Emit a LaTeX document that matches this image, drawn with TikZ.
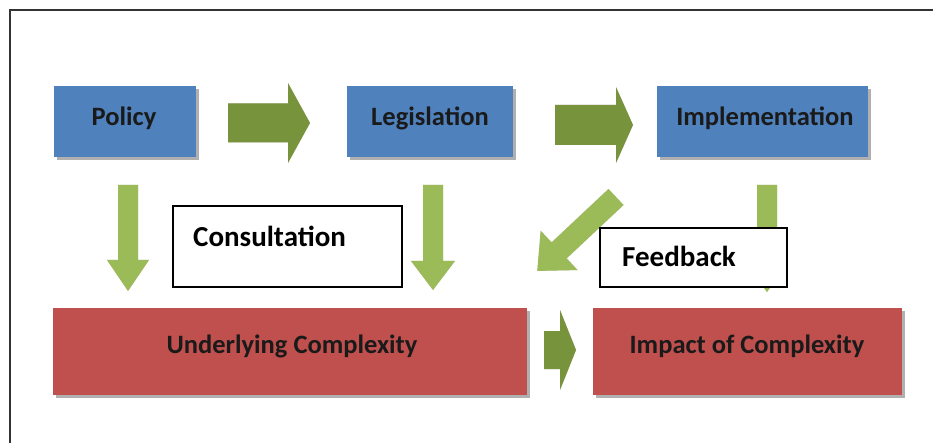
\documentclass[tikz,border=0pt]{standalone}
\usepackage{fontspec}
\setmainfont{Carlito}
\usetikzlibrary{shadows}
\definecolor{boxblue}{HTML}{4F81BD}
\definecolor{boxred}{HTML}{C0504D}
\definecolor{arrdark}{HTML}{77933C}
\definecolor{arrlight}{HTML}{9BBB59}
\definecolor{shadegray}{HTML}{8F8F8F}
\definecolor{arrshade}{HTML}{B79C9C}
\definecolor{ink}{HTML}{1A1A1A}
\definecolor{framegray}{HTML}{333333}
% #1 colour, #2 start coordinate, #3 angle, #4 length, #5 body half width, #6 head half width, #7 head length
\newcommand\blockarrow[7]{%
  \begin{scope}[shift={(2,2)}]
    \begin{scope}[shift={#2},rotate=#3]
      \fill[arrshade,opacity=0.55] (0,-#5) -- ({#4-#7},-#5) -- ({#4-#7},-#6) -- (#4,0) -- ({#4-#7},#6) -- ({#4-#7},#5) -- (0,#5) -- cycle;
    \end{scope}
  \end{scope}
  \begin{scope}[shift={#2},rotate=#3]
    \fill[#1] (0,-#5) -- ({#4-#7},-#5) -- ({#4-#7},-#6) -- (#4,0) -- ({#4-#7},#6) -- ({#4-#7},#5) -- (0,#5) -- cycle;
  \end{scope}}
\tikzset{
  flowbox/.style={rectangle, inner sep=0pt, drop shadow={shadow xshift=3pt, shadow yshift=-3pt, fill=shadegray, opacity=0.7}},
  bluebox/.style={flowbox, fill=boxblue, minimum height=71pt},
  redbox/.style={flowbox, fill=boxred, minimum height=87pt},
  boxlabel/.style={anchor=base, inner sep=0pt, text=ink, font=\fontsize{26.5}{30}\selectfont\bfseries},
  notebox/.style={rectangle, draw=black, line width=1.3pt, fill=white, inner sep=0pt},
  notelabel/.style={anchor=base west, inner sep=0pt, text=black, font=\fontsize{29}{33}\selectfont\bfseries},
}
\begin{document}
\begin{tikzpicture}[x=1pt, y=-1pt]
\useasboundingbox (0,0) rectangle (933,443);
% frame
\draw[framegray, line width=1.5pt] (933,10) -- (10,10) -- (10,443);

% boxes
\node[bluebox, minimum width=142pt] (policy) at (125,121.5) {};
\node[bluebox, minimum width=166pt] (legis) at (430,121.5) {};
\node[bluebox, minimum width=211pt] (impl) at (762.5,121.5) {};
\node[redbox, minimum width=474pt] (under) at (290,351.5) {};
\node[redbox, minimum width=309pt] (impact) at (747.5,351.5) {};

\node[boxlabel] (policyT) at (124,126) {Policy};
\node[boxlabel] (legisT) at (430,126) {Legislation};
\node[boxlabel] (implT) at (765,126) {Implementation};
\node[boxlabel] (underT) at (292,353) {Underlying Complexity};
\node[boxlabel] (impactT) at (747,353) {Impact of Complexity};

% block arrows
\coordinate (h1) at (228,123);
\coordinate (h2) at (555,125);
\coordinate (h3) at (544,350);
\coordinate (d1) at (128,185);
\coordinate (d2) at (433,185);
\coordinate (d3) at (767,185);
\coordinate (dg) at (616,197);
\blockarrow{arrdark}{(h1)}{0}{82}{19.5}{40}{22}
\blockarrow{arrdark}{(h2)}{0}{78}{20}{38}{17}
\blockarrow{arrdark}{(h3)}{0}{32}{19}{40}{16}
\blockarrow{arrlight}{(d1)}{-90}{106}{10}{21}{31}
\blockarrow{arrlight}{(d2)}{-90}{105}{10}{22}{29}
\blockarrow{arrlight}{(d3)}{-90}{107}{10}{21}{30}
\blockarrow{arrlight}{(dg)}{-136.8}{108}{11}{27}{30}

% note boxes
\node[notebox, minimum width=229pt, minimum height=81pt] (consult) at (287.5,246.5) {};
\node[notelabel] (consultT) at (193,247) {Consultation};
\node[notebox, minimum width=187pt, minimum height=59pt] (feedback) at (693.5,257.5) {};
\node[notelabel] (feedbackT) at (622,267) {Feedback};
\end{tikzpicture}
\end{document}
